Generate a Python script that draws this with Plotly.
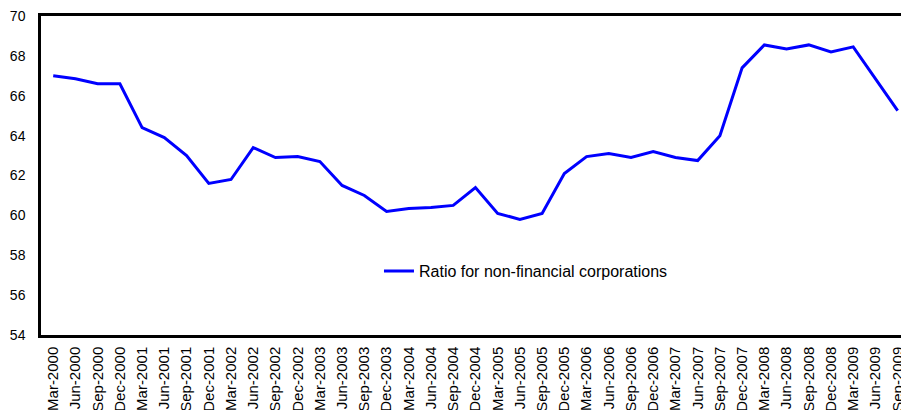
import plotly.graph_objects as go

quarters = [
    "Mar-2000", "Jun-2000", "Sep-2000", "Dec-2000",
    "Mar-2001", "Jun-2001", "Sep-2001", "Dec-2001",
    "Mar-2002", "Jun-2002", "Sep-2002", "Dec-2002",
    "Mar-2003", "Jun-2003", "Sep-2003", "Dec-2003",
    "Mar-2004", "Jun-2004", "Sep-2004", "Dec-2004",
    "Mar-2005", "Jun-2005", "Sep-2005", "Dec-2005",
    "Mar-2006", "Jun-2006", "Sep-2006", "Dec-2006",
    "Mar-2007", "Jun-2007", "Sep-2007", "Dec-2007",
    "Mar-2008", "Jun-2008", "Sep-2008", "Dec-2008",
    "Mar-2009", "Jun-2009", "Sep-2009",
]

ratio_nfc = [
    67.0, 66.85, 66.6, 66.6,
    64.4, 63.9, 63.0, 61.6,
    61.8, 63.4, 62.9, 62.95,
    62.7, 61.5, 61.0, 60.2,
    60.35, 60.4, 60.5, 61.4,
    60.1, 59.8, 60.1, 62.1,
    62.95, 63.1, 62.9, 63.2,
    62.9, 62.75, 64.0, 67.4,
    68.55, 68.35, 68.55, 68.2,
    68.45, 66.85, 65.25,
]

y_ticks = [54, 56, 58, 60, 62, 64, 66, 68, 70]

FONT = "Liberation Sans, Arial, sans-serif"

fig = go.Figure()
fig.add_trace(go.Scatter(
    x=quarters, y=ratio_nfc, mode="lines",
    name="Ratio for non-financial corporations",
    line=dict(color="#0000FF", width=3),
))

fig.update_layout(
    width=901, height=410,
    margin=dict(l=41, r=0, t=16, b=75),
    paper_bgcolor="white", plot_bgcolor="white",
    font=dict(family=FONT, color="black", size=14),
    showlegend=True,
    legend=dict(
        x=0.393, y=0.2, xanchor="left", yanchor="middle",
        bgcolor="rgba(0,0,0,0)", font=dict(size=16, family=FONT),
    ),
    xaxis=dict(
        type="category", range=[-0.55, 38.15],
        showgrid=False, zeroline=False,
        showline=True, linecolor="black", linewidth=2.5, mirror=True,
        ticks="outside", ticklen=3, tickcolor="rgba(0,0,0,0)",
        tickangle=-90, tickfont=dict(size=15),
        ticklabeloverflow="allow",
        automargin=False,
    ),
    yaxis=dict(
        range=[54, 70], tickvals=y_ticks,
        showgrid=False, zeroline=False,
        showline=True, linecolor="black", linewidth=2.5,
        ticks="outside", ticklen=10, tickcolor="rgba(0,0,0,0)",
        tickfont=dict(size=14),
        ticklabeloverflow="allow",
        automargin=False,
    ),
)

# Remove the browser's default page margin so the figure fills the window.
reset_page = (
    "document.documentElement.style.margin='0';"
    "document.documentElement.style.overflow='hidden';"
    "document.body.style.margin='0';"
    "document.body.style.overflow='hidden';"
)

fig.write_html("out.html", post_script=reset_page,
               config={"displayModeBar": False})
